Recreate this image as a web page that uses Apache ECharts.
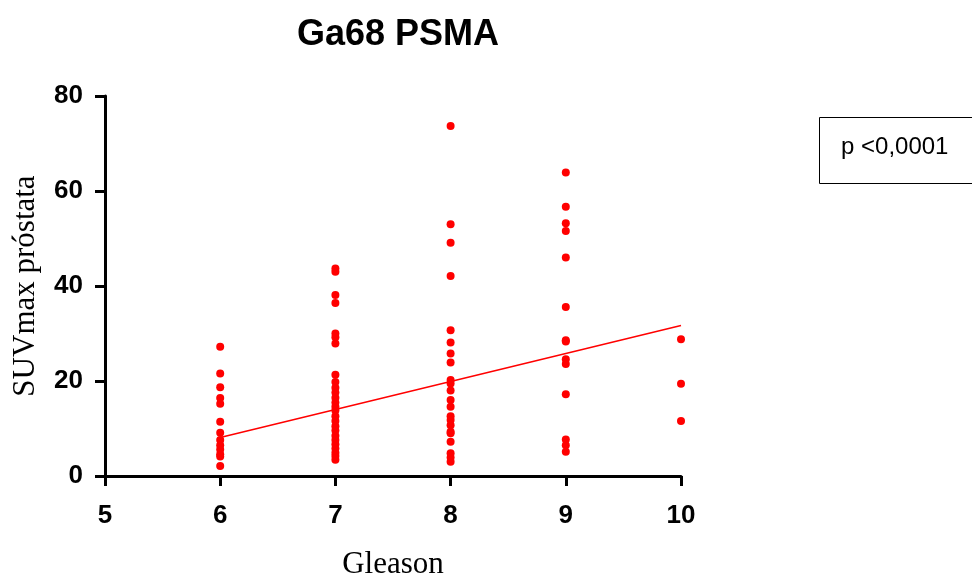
<!DOCTYPE html>
<html>
<head>
<meta charset="utf-8">
<title>Ga68 PSMA</title>
<script src="https://cdn.jsdelivr.net/npm/echarts@6/dist/echarts.min.js"></script>
<style>
  html, body { margin: 0; padding: 0; background: #fff; }
  #main { width: 972px; height: 580px; }
</style>
</head>
<body>
<div id="main"></div>
<script>
// valores SUVmax por grupo Gleason
var gleason6 = [27.2, 21.6, 18.7, 16.4, 15.2, 11.4, 9.1, 7.6, 6.5, 5.6, 4.6, 4.1, 2.1];
var gleason7 = [43.7, 43.0, 38.1, 36.4, 30.0, 29.2, 27.9, 21.3, 19.8, 18.6, 17.6, 16.5, 15.5,
  14.6, 13.8, 12.6, 11.6, 10.5, 9.6, 8.5, 7.6, 6.7, 5.8, 4.9, 4.2, 3.4];
var gleason8 = [73.7, 53.0, 49.1, 42.1, 30.7, 28.1, 25.8, 23.9, 20.2, 19.5, 18.0, 16.0, 14.6,
  12.6, 11.8, 10.7, 9.3, 9.0, 7.2, 4.8, 3.9, 3.0];
var gleason9 = [63.9, 56.7, 53.2, 51.6, 46.0, 35.6, 28.6, 28.3, 24.6, 23.6, 17.2, 7.7, 6.5, 5.1];
var gleason10 = [28.8, 19.4, 11.6];
var groups = [[6, gleason6], [7, gleason7], [8, gleason8], [9, gleason9], [10, gleason10]];
// recta de regresión
var fitLine = [[6, 8.1], [10, 31.7]];

var points = [];
groups.forEach(function (g) {
  g[1].forEach(function (v) { points.push([g[0], v]); });
});

var myChart = echarts.init(document.getElementById('main'));
var labelFont = {
  color: '#000',
  fontFamily: 'Liberation Sans, Arial, sans-serif',
  fontWeight: 'bold',
  fontSize: 26
};
var nameFont = { color: '#000', fontFamily: 'Liberation Serif, Times New Roman, serif', fontSize: 31 };
var option = {
  animation: false,
  title: {
    text: 'Ga68 PSMA',
    left: 393,
    textAlign: 'center',
    top: 12,
    textStyle: {
      color: '#000',
      fontFamily: 'Liberation Sans, Arial, sans-serif',
      fontWeight: 'bold',
      fontSize: 36
    }
  },
  grid: { left: 105, top: 96, width: 576, height: 380, outerBoundsMode: 'none', containLabel: false },
  xAxis: {
    type: 'value',
    min: 5,
    max: 10,
    interval: 1,
    name: 'Gleason',
    nameLocation: 'middle',
    nameGap: 73,
    nameTextStyle: nameFont,
    axisLine: { show: true, lineStyle: { color: '#000', width: 3 } },
    axisTick: { show: true, length: 10, lineStyle: { color: '#000', width: 3 } },
    axisLabel: Object.assign({ margin: 27 }, labelFont),
    splitLine: { show: false }
  },
  yAxis: {
    type: 'value',
    min: 0,
    max: 80,
    interval: 20,
    name: 'SUVmax próstata',
    nameLocation: 'middle',
    nameRotate: 90,
    nameGap: 64,
    nameTextStyle: nameFont,
    axisLine: { show: true, lineStyle: { color: '#000', width: 3 } },
    axisTick: { show: true, length: 10, lineStyle: { color: '#000', width: 3 } },
    axisLabel: Object.assign({ margin: 22 }, labelFont),
    splitLine: { show: false }
  },
  series: [
    {
      name: 'SUVmax',
      type: 'scatter',
      data: points,
      symbolSize: 8,
      itemStyle: { color: '#ff0000', opacity: 1 }
    },
    {
      name: 'Regresión',
      type: 'line',
      data: fitLine,
      symbol: 'none',
      lineStyle: { color: '#ff0000', width: 1.5 }
    }
  ],
  graphic: [
    {
      type: 'rect',
      left: 819,
      top: 117,
      shape: { width: 160, height: 66 },
      style: { fill: '#fff', stroke: '#000', lineWidth: 1 }
    },
    {
      type: 'text',
      left: 841,
      top: 135,
      style: {
        text: 'p <0,0001',
        fill: '#000',
        font: '24px "Liberation Sans", Arial, sans-serif'
      }
    }
  ]
};
myChart.setOption(option);
</script>
</body>
</html>
